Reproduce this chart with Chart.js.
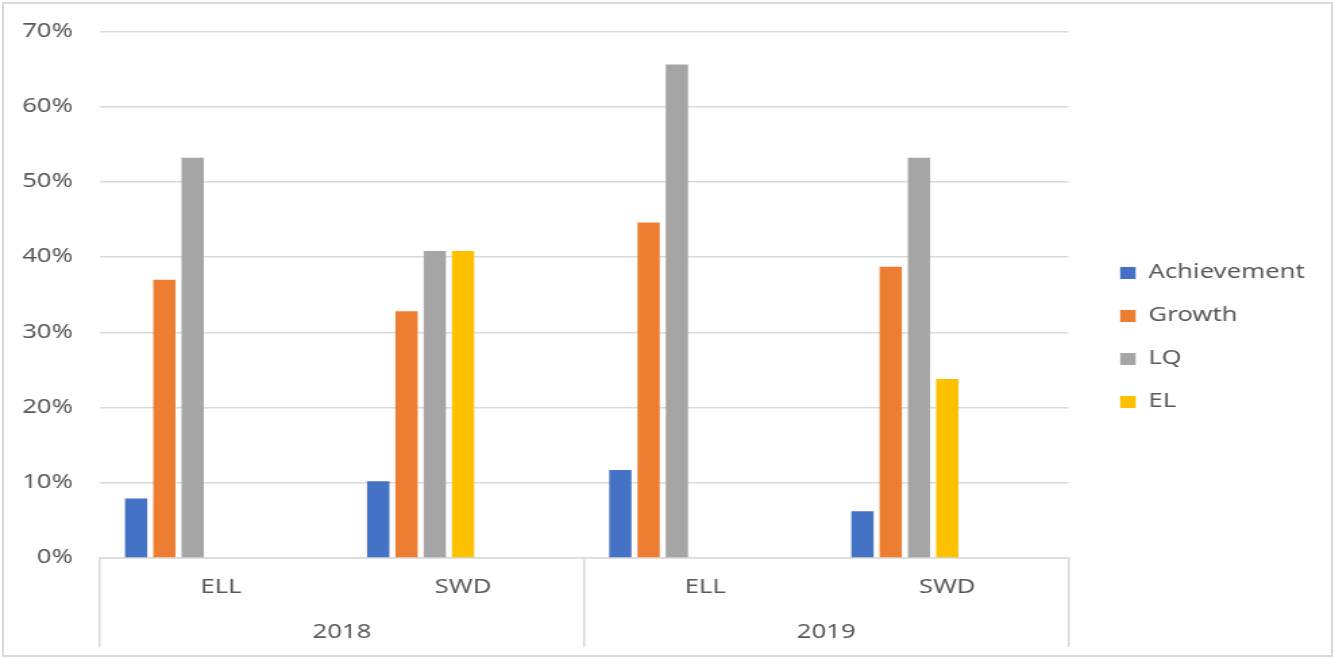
<!DOCTYPE html>
<html>
<head>
<meta charset="utf-8">
<script src="https://cdn.jsdelivr.net/npm/chart.js@4/dist/chart.umd.min.js"></script>
<style>
  html, body { margin: 0; padding: 0; background: #ffffff; }
  #wrap { position: relative; width: 1335px; height: 659px; overflow: hidden; background: #fff; }
  #c { position: absolute; left: 0; top: 0; }
  #frame { position: absolute; left: 2px; top: 2px; width: 1331px; height: 655px; box-sizing: border-box; border: 2px solid #d9d9d9; pointer-events: none; }
</style>
</head>
<body>
<div id="wrap">
  <canvas id="c" width="989" height="659" style="width:1335px;height:659px"></canvas>
  <div id="frame"></div>
</div>
<script>
// ---- data ----
const categories = ['ELL', 'SWD', 'ELL', 'SWD'];
const years = ['2018', '2019'];
const achievement = [7.9, 10.2, 11.7, 6.2];
const growth = [37.0, 32.8, 44.6, 38.7];
const lq = [53.2, 40.8, 65.6, 53.2];
const el = [null, 40.8, null, 23.8];
const yTicks = [0, 10, 20, 30, 40, 50, 60, 70];
const seriesNames = ['Achievement', 'Growth', 'LQ', 'EL'];
const seriesColors = ['#4472C4', '#ED7D31', '#A5A5A5', '#FFC000'];
// empty series slots present in the source chart (no values)
const emptySeries = [null, null, null, null];

const seriesData = [achievement, growth, lq, el];
const datasets = seriesData.map((d, i) => ({
  label: seriesNames[i],
  data: d,
  backgroundColor: seriesColors[i],
  borderWidth: 0,
  xAxisID: 'x',
  yAxisID: 'y'
}));
for (let k = 0; k < 3; k++) {
  datasets.push({ label: '', data: emptySeries, backgroundColor: 'rgba(0,0,0,0)', borderWidth: 0, xAxisID: 'x', yAxisID: 'y' });
}

Chart.defaults.font.family = "'Noto Sans', 'Open Sans', sans-serif";
Chart.defaults.font.size = 19;
Chart.defaults.color = '#595959';

const gridColor = '#d9d9d9';

new Chart(document.getElementById('c'), {
  type: 'bar',
  data: { labels: categories, datasets },
  options: {
    responsive: false,
    devicePixelRatio: 1,
    animation: false,
    layout: { padding: { left: 0, right: 22, top: 30, bottom: 14 } },
    datasets: { bar: { categoryPercentage: 0.8175, barPercentage: 0.787 } },
    plugins: {
      tooltip: { enabled: false },
      legend: {
        position: 'right',
        align: 'center',
        labels: {
          boxWidth: 11.5,
          boxHeight: 12,
          padding: 24,
          color: '#595959',
          font: { size: 19 },
          filter: (item) => item.text !== ''
        }
      }
    },
    scales: {
      x: {
        type: 'category',
        position: 'bottom',
        weight: 0,
        offset: true,
        grid: {
          display: true,
          offset: true,
          drawOnChartArea: false,
          drawTicks: true,
          tickLength: 89,
          lineWidth: 1.5,
          color: (ctx) => (ctx.index === undefined || ctx.index % 2 === 0) ? gridColor : 'rgba(0,0,0,0)'
        },
        border: { display: true, color: gridColor, width: 1.5 },
        ticks: { padding: -70.4, autoSkip: false, maxRotation: 0, color: '#595959', font: { size: 19 } },
        afterFit: (scale) => { scale.height = 42; }
      },
      x2: {
        type: 'category',
        labels: years,
        position: 'bottom',
        weight: 1,
        offset: true,
        grid: { display: false, drawTicks: false },
        border: { display: false },
        ticks: { padding: 21.6, autoSkip: false, maxRotation: 0, color: '#595959', font: { size: 19 } },
        afterFit: (scale) => { scale.height = 45; }
      },
      y: {
        min: 0,
        max: 70,
        position: 'left',
        grid: { color: gridColor, lineWidth: 1.5, drawTicks: false },
        border: { display: false },
        afterBuildTicks: (scale) => { scale.ticks = yTicks.map(v => ({ value: v })); },
        ticks: { padding: 20, color: '#595959', font: { size: 19 }, callback: (v) => v + '%' },
        afterFit: (scale) => { scale.width = 74; }
      },
      ySpacer: {
        position: 'right',
        display: true,
        grid: { display: false, drawTicks: false },
        border: { display: false },
        ticks: { display: false },
        afterFit: (scale) => { scale.width = 14.4; }
      }
    }
  }
});
</script>
</body>
</html>
